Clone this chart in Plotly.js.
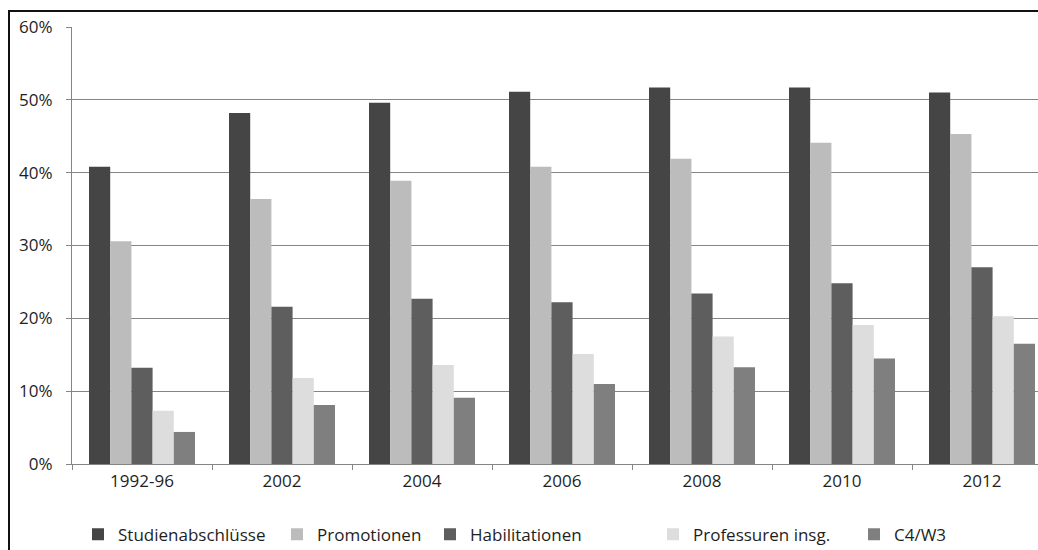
<!DOCTYPE html>
<html>
<head>
<meta charset="utf-8">
<script src="https://cdn.plot.ly/plotly-3.0.1.min.js"></script>
<style>
html, body { margin: 0; padding: 0; overflow: hidden; background: #fff; width: 1038px; height: 550px; }
#chart { position: absolute; left: 0; top: 0; width: 1060px; height: 550px; }
#frame { position: absolute; left: 8px; top: 10px; width: 1100px; height: 600px; border-left: 2px solid #111; border-top: 2px solid #111; pointer-events: none; }
</style>
</head>
<body>
<div id="chart"></div>
<div id="frame"></div>
<script>
const categories = ["1992-96", "2002", "2004", "2006", "2008", "2010", "2012"];
const seriesNames = ["Studienabschlüsse", "Promotionen", "Habilitationen", "Professuren insg.", "C4/W3"];
const studienabschluesse = [40.8, 48.2, 49.6, 51.1, 51.7, 51.7, 51.0];
const promotionen       = [30.6, 36.4, 38.9, 40.8, 41.9, 44.1, 45.3];
const habilitationen    = [13.2, 21.6, 22.7, 22.2, 23.4, 24.8, 27.0];
const professuren       = [7.3, 11.8, 13.6, 15.1, 17.5, 19.1, 20.3];
const c4w3              = [4.4, 8.1, 9.1, 11.0, 13.3, 14.5, 16.5];
const yTickVals = [0, 10, 20, 30, 40, 50, 60];
const yTickText = yTickVals.map(v => v + "%");

const colors = ["#454545", "#bcbcbc", "#5e5e5e", "#dddddd", "#7f7f7f"];
const allValues = [studienabschluesse, promotionen, habilitationen, professuren, c4w3];
// legend text start positions (px) converted to paper coords
const legendTextStartPx = [117, 316, 469, 692, 893];
const plotLeft = 72, plotWidth = 980;

const traces = allValues.map((vals, i) => ({
  type: "bar",
  name: seriesNames[i],
  x: categories,
  y: vals,
  marker: { color: colors[i], line: { width: 0 } },
  legend: i === 0 ? "legend" : "legend" + (i + 1),
  hoverinfo: "x+y+name"
}));

const font = { family: "Open Sans, sans-serif", size: 17, color: "#1e1e1e" };
const layout = {
  width: 1060, height: 550,
  margin: { l: 72, r: 8, t: 27, b: 86, autoexpand: false },
  paper_bgcolor: "#ffffff",
  plot_bgcolor: "#ffffff",
  font: font,
  barmode: "group",
  bargap: 0.243,
  bargroupgap: 0,
  xaxis: {
    type: "category",
    showline: true, linecolor: "#858585", linewidth: 1,
    ticks: "outside", tickson: "boundaries", ticklen: 5, tickcolor: "#858585",
    ticklabelstandoff: 2,
    tickfont: font,
    showgrid: false, zeroline: false,
    automargin: false
  },
  yaxis: {
    range: [0, 60],
    tickmode: "array",
    tickvals: yTickVals,
    ticktext: yTickText,
    showline: true, linecolor: "#858585", linewidth: 1,
    ticks: "outside", ticklen: 5, tickcolor: "#858585",
    ticklabelstandoff: 10,
    tickfont: font,
    showgrid: true, gridcolor: "#858585", gridwidth: 1,
    zeroline: false,
    automargin: false
  },
  showlegend: true
};
legendTextStartPx.forEach((px, i) => {
  const key = i === 0 ? "legend" : "legend" + (i + 1);
  layout[key] = {
    x: (px - 39 - plotLeft) / plotWidth,
    xanchor: "left",
    y: -0.162, yanchor: "middle",
    orientation: "h",
    font: font,
    bgcolor: "rgba(0,0,0,0)"
  };
});

Plotly.newPlot("chart", traces, layout, { displayModeBar: false, staticPlot: true });
</script>
</body>
</html>
